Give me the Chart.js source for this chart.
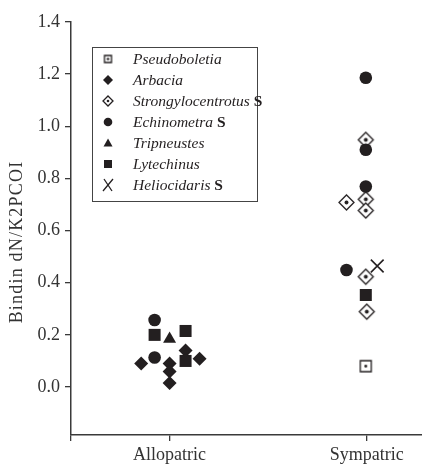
<!DOCTYPE html>
<html>
<head>
<meta charset="utf-8">
<script src="https://cdn.jsdelivr.net/npm/chart.js@4.4.0/dist/chart.umd.min.js"></script>
<style>
  html, body { margin: 0; padding: 0; background: #fff; }
</style>
</head>
<body>
<canvas id="resultsGraph" width="422" height="468"></canvas>
<script>
// categories on the x axis (1 = Allopatric, 2 = Sympatric, small offsets = jitter)
const categories = ["Allopatric", "Sympatric"];
const yTickValues = [0, 0.2, 0.4, 0.6, 0.8, 1.0, 1.2, 1.4];
const yTitle = "Bindin dN/K2PCOI";

const speciesNames = ["Pseudoboletia", "Arbacia", "Strongylocentrotus", "Echinometra", "Tripneustes", "Lytechinus", "Heliocidaris"];
const sympatricMark = [false, false, true, true, false, false, true];

// values
const pseudoboletiaX = [1.995];
const pseudoboletiaY = [0.08];
const arbaciaX = [0.856, 1.0, 1.0, 1.0, 1.081, 1.152];
const arbaciaY = [0.09, 0.09, 0.06, 0.015, 0.14, 0.108];
const strongyloX = [1.995, 1.897, 1.995, 1.995, 1.995, 2.0];
const strongyloY = [0.948, 0.708, 0.72, 0.677, 0.423, 0.289];
const echinometraX = [0.924, 0.924, 1.995, 1.995, 1.995, 1.897];
const echinometraY = [0.257, 0.113, 1.186, 0.91, 0.769, 0.449];
const tripneustesX = [1.0];
const tripneustesY = [0.184];
const lytechinusX = [0.924, 1.081, 1.081, 1.995];
const lytechinusY = [0.2, 0.215, 0.1, 0.353];
const heliocidarisX = [2.053];
const heliocidarisY = [0.464];

const ink = "#231f20";

function toPoints(xs, ys) {
  return xs.map((x, i) => ({ x: x, y: ys[i] }));
}

// open marker with a dot in the middle, drawn on a small canvas
function dottedMarker(shape, half) {
  const size = Math.ceil(half * 2 + 4);
  const c = document.createElement("canvas");
  c.width = size; c.height = size;
  const g = c.getContext("2d");
  const m = size / 2;
  g.fillStyle = "#fff";
  g.strokeStyle = ink;
  g.lineWidth = 1.3;
  g.beginPath();
  if (shape === "diamond") {
    g.moveTo(m, m - half); g.lineTo(m + half, m); g.lineTo(m, m + half); g.lineTo(m - half, m);
  } else {
    g.rect(m - half, m - half, half * 2, half * 2);
  }
  g.closePath();
  g.fill(); g.stroke();
  g.fillStyle = ink;
  g.beginPath();
  g.arc(m, m, Math.max(1.3, half * 0.26), 0, Math.PI * 2);
  g.fill();
  return c;
}

const openDiamond = dottedMarker("diamond", 7.5);
const openSquare = dottedMarker("square", 5.5);

const datasets = [
  { label: speciesNames[0], data: toPoints(pseudoboletiaX, pseudoboletiaY), pointStyle: openSquare, order: 5 },
  { label: speciesNames[1], data: toPoints(arbaciaX, arbaciaY), pointStyle: "rectRot", pointRadius: 7, order: 2 },
  { label: speciesNames[2], data: toPoints(strongyloX, strongyloY), pointStyle: openDiamond, order: 4 },
  { label: speciesNames[3], data: toPoints(echinometraX, echinometraY), pointStyle: "circle", pointRadius: 6.3, order: 1 },
  { label: speciesNames[4], data: toPoints(tripneustesX, tripneustesY), pointStyle: "triangle", pointRadius: 7.5, order: 3 },
  { label: speciesNames[5], data: toPoints(lytechinusX, lytechinusY), pointStyle: "rect", pointRadius: 8.5, order: 3 },
  { label: speciesNames[6], data: toPoints(heliocidarisX, heliocidarisY), pointStyle: "crossRot", pointRadius: 9, pointBorderWidth: 1.6, order: 0 }
].map(d => Object.assign({
  pointBackgroundColor: ink,
  pointBorderColor: ink,
  pointBorderWidth: 0,
  showLine: false
}, d));

// legend box and y title drawn by hand: italic names, bold upright "S"
const legendBox = {
  id: "legendBox",
  afterDraw(chart) {
    const ctx = chart.ctx;
    ctx.save();
    ctx.strokeStyle = "#444";
    ctx.lineWidth = 1;
    ctx.strokeRect(92.5, 47.5, 165, 154);
    speciesNames.forEach((name, i) => {
      const y = 59 + 21 * i;
      const x = 108;
      ctx.fillStyle = ink;
      ctx.strokeStyle = ink;
      ctx.beginPath();
      if (i === 0) {
        ctx.drawImage(dottedMarker("square", 3.5), x - 5.5, y - 5.5);
      } else if (i === 1) {
        ctx.moveTo(x, y - 5); ctx.lineTo(x + 5, y); ctx.lineTo(x, y + 5); ctx.lineTo(x - 5, y); ctx.closePath(); ctx.fill();
      } else if (i === 2) {
        ctx.drawImage(dottedMarker("diamond", 5), x - 7, y - 7);
      } else if (i === 3) {
        ctx.arc(x, y, 4.3, 0, Math.PI * 2); ctx.fill();
      } else if (i === 4) {
        ctx.moveTo(x, y - 4.5); ctx.lineTo(x + 4.5, y + 3.5); ctx.lineTo(x - 4.5, y + 3.5); ctx.closePath(); ctx.fill();
      } else if (i === 5) {
        ctx.rect(x - 4, y - 4, 8, 8); ctx.fill();
      } else {
        ctx.lineWidth = 1.3;
        ctx.moveTo(x - 5, y + 6); ctx.lineTo(x + 5, y - 6);
        ctx.moveTo(x - 4, y - 6); ctx.lineTo(x + 4, y + 6);
        ctx.stroke();
      }
      ctx.textBaseline = "middle";
      ctx.textAlign = "left";
      ctx.font = "italic 15.5px 'Liberation Serif'";
      ctx.fillText(name, 133, y + 1);
      if (sympatricMark[i]) {
        const w = ctx.measureText(name + " ").width;
        ctx.font = "bold 15.5px 'Liberation Serif'";
        ctx.fillText("S", 133 + w, y + 1);
      }
    });
    // rotated y-axis title
    ctx.translate(17, 242);
    ctx.rotate(-Math.PI / 2);
    ctx.font = "18px 'Liberation Serif'";
    ctx.letterSpacing = "1.2px";
    ctx.fillStyle = "#333";
    ctx.textAlign = "center";
    ctx.textBaseline = "middle";
    ctx.fillText(yTitle, 0, 0);
    ctx.restore();
  }
};

const axisColor = "#3a3a3a";
const tickFont = { family: "'Liberation Serif'", size: 18 };

const ctx = document.getElementById("resultsGraph").getContext("2d");
const resultsGraph = new Chart(ctx, {
  type: "scatter",
  data: { datasets: datasets },
  options: {
    responsive: false,
    animation: false,
    events: [],
    layout: { autoPadding: false, padding: { top: 22, right: 0, left: 0, bottom: 0 } },
    plugins: {
      legend: { display: false },
      tooltip: { enabled: false }
    },
    scales: {
      x: {
        type: "linear",
        min: 0.5,
        max: 2.28,
        afterBuildTicks: (s) => { s.ticks = [0.5, 1, 2].map(v => ({ value: v })); },
        afterFit: (s) => { s.height = 33; s.paddingLeft = 0; s.paddingRight = 0; },
        ticks: {
          autoSkip: false,
          maxRotation: 0,
          padding: 3,
          color: "#333",
          font: tickFont,
          callback: (v) => (v === 1 ? categories[0] : v === 2 ? categories[1] : "")
        },
        grid: { drawOnChartArea: false, tickLength: 6, color: axisColor, lineWidth: 1.3 },
        border: { color: axisColor, width: 1.5 }
      },
      y: {
        min: -0.184,
        max: 1.4,
        afterBuildTicks: (s) => { s.ticks = yTickValues.map(v => ({ value: v })); },
        afterFit: (s) => { s.width = 71; s.paddingTop = 0; s.paddingBottom = 0; },
        ticks: {
          padding: 5,
          color: "#333",
          font: tickFont,
          callback: (v) => Number(v).toFixed(1)
        },
        grid: { drawOnChartArea: false, tickLength: 6, color: axisColor, lineWidth: 1.3 },
        border: { color: axisColor, width: 1.5 }
      }
    }
  },
  plugins: [legendBox]
});
</script>
</body>
</html>
